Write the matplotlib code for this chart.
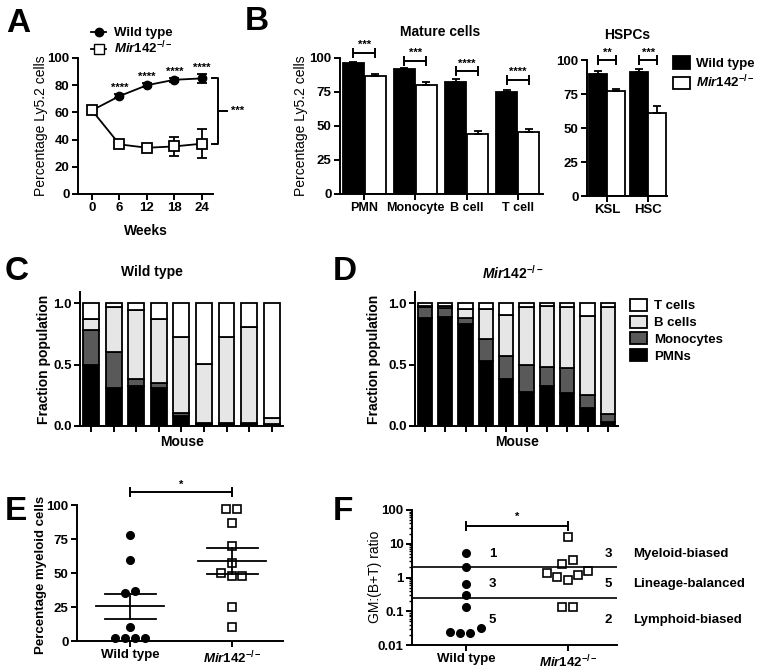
import matplotlib
matplotlib.use('Agg')
import matplotlib.pyplot as plt
from matplotlib.patches import Patch
from matplotlib.lines import Line2D
from matplotlib.ticker import LogLocator, FuncFormatter, NullFormatter
import numpy as np

plt.rcParams['font.family'] = ['Liberation Sans', 'DejaVu Sans']
plt.rcParams['font.weight'] = 'bold'
plt.rcParams['mathtext.fontset'] = 'custom'
plt.rcParams['mathtext.it'] = 'Liberation Sans:italic:bold'
plt.rcParams['mathtext.rm'] = 'Liberation Sans:bold'
plt.rcParams['mathtext.bf'] = 'Liberation Sans:bold'
plt.rcParams['axes.linewidth'] = 1.4

MIR = r'$\mathit{Mir142}^{\mathit{-/-}}$'

# ---- A: Ly5.2 chimerism over time
weeks = [0, 6, 12, 18, 24]
wt_ly52 = [61.5, 72, 80, 84, 85]
wt_ly52_err = [1.5, 1.5, 1.5, 1.5, 3.5]
ko_ly52 = [61.5, 36.5, 34, 35, 37]
ko_ly52_err = [1.5, 1.5, 2.5, 7, 10.5]
week_stars = ['', '****', '****', '****', '****']

# ---- B: mature cells and HSPCs
mature_cells = ['PMN', 'Monocyte', 'B cell', 'T cell']
mature_wt = [96, 92, 82.5, 75]
mature_wt_err = [0.7, 1, 2, 1.5]
mature_ko = [87, 80.5, 44, 45.5]
mature_ko_err = [1, 2, 2.5, 2]
mature_sig = ['***', '***', '****', '****']
mature_sig_y = [104, 98, 90.5, 84]

hspc_cells = ['KSL', 'HSC']
hspc_wt = [90, 91]
hspc_wt_err = [2, 2.7]
hspc_ko = [77, 61]
hspc_ko_err = [2, 5]
hspc_sig = ['**', '***']
hspc_sig_y = [100, 100]

# ---- C / D: lineage fractions per mouse
lineages = ['PMNs', 'Monocytes', 'B cells', 'T cells']
lineage_colors = ['black', '#595959', '#e6e6e6', 'white']
wt_pmn = [0.50, 0.313, 0.325, 0.31, 0.08, 0.02, 0.02, 0.02, 0.015]
wt_mono = [0.28, 0.286, 0.055, 0.04, 0.025, 0.005, 0.005, 0.005, 0.005]
wt_b = [0.09, 0.369, 0.56, 0.52, 0.615, 0.48, 0.70, 0.78, 0.045]
wt_t = [0.13, 0.032, 0.06, 0.13, 0.28, 0.495, 0.275, 0.195, 0.935]

ko_pmn = [0.88, 0.89, 0.83, 0.525, 0.38, 0.28, 0.325, 0.265, 0.15, 0.035]
ko_mono = [0.088, 0.07, 0.05, 0.18, 0.19, 0.22, 0.155, 0.205, 0.10, 0.06]
ko_b = [0.012, 0.02, 0.075, 0.25, 0.33, 0.47, 0.50, 0.495, 0.645, 0.875]
ko_t = [0.02, 0.02, 0.045, 0.045, 0.10, 0.03, 0.02, 0.035, 0.105, 0.03]

# ---- E: percentage myeloid cells
wt_myeloid = [78, 59.5, 35, 37, 10.5, 2, 2, 2, 2.5]
wt_myeloid_dx = [0, 0, -0.05, 0.05, 0, -0.15, -0.05, 0.05, 0.15]
ko_myeloid = [97, 97, 87, 70, 57.5, 50, 47.5, 47.5, 25, 10]
ko_myeloid_dx = [-0.055, 0.05, 0, 0, 0, -0.105, 0, 0.1, 0, 0]

# ---- F: GM:(B+T) ratio
wt_ratio = [5.2, 2.0, 0.65, 0.3, 0.135, 0.025, 0.022, 0.022, 0.033]
wt_ratio_dx = [0, 0, 0, 0, 0, -0.157, -0.06, 0.04, 0.144]
ko_ratio = [15.5, 2.55, 3.3, 1.4, 1.05, 0.85, 1.22, 1.55, 0.138, 0.138]
ko_ratio_dx = [0, -0.06, 0.045, -0.21, -0.11, 0, 0.1, 0.2, -0.06, 0.045]
bias_cut = [2.0, 0.25]
bias_names = ['Myeloid-biased', 'Lineage-balanced', 'Lymphoid-biased']
bias_label_y = [5, 0.63, 0.055]

W, H = 762, 672
fig = plt.figure(figsize=(W / 100, H / 100), dpi=100)


def fx(x):
    return x / W


def fy(y):
    return 1 - y / H


def add_ax(l, t, r, b):
    ax = fig.add_axes([l / W, 1 - b / H, (r - l) / W, (b - t) / H])
    ax.spines[['top', 'right']].set_visible(False)
    ax.tick_params(direction='out', length=4, width=1.4, labelsize=9.5, pad=2)
    return ax


def bracket(ax, x1, x2, y, label, dy, fs=8):
    ax.plot([x1, x2], [y, y], color='k', lw=1.4, marker='|', ms=7, mew=1.4,
            clip_on=False)
    ax.text((x1 + x2) / 2, dy, label, ha='center', va='center', fontsize=fs)


def letter(x, y, s):
    fig.text(fx(x), fy(y), s, fontsize=24, fontweight='bold', ha='left', va='baseline')


def ylab(x, y, s, size=10, weight='bold'):
    fig.text(fx(x), fy(y), s, rotation=90, ha='center', va='center',
             fontsize=size, fontweight=weight)


# ================= A
ax = add_ax(78, 58, 213, 194)
ax.errorbar(weeks, wt_ly52, yerr=wt_ly52_err, fmt='-o', color='k', ms=6, lw=1.3,
            capsize=3.5, elinewidth=1.3, capthick=1.3, clip_on=False)
ax.errorbar(weeks, ko_ly52, yerr=ko_ly52_err, fmt='-s', color='k', mfc='white',
            ms=6.5, mew=1.3, lw=1.3, capsize=3.5, elinewidth=1.3, capthick=1.3)
for w, v, e, s in zip(weeks, wt_ly52, wt_ly52_err, week_stars):
    ax.text(w, v + e + 4.5, s, ha='center', va='center', fontsize=8)
ax.set_xlim(-3.05, 26.4)
ax.set_ylim(0, 100)
ax.set_xticks(weeks)
ax.set_yticks([0, 20, 40, 60, 80, 100])
ax.plot([26.2, 27.5, 27.5, 26.2], [wt_ly52[-1], wt_ly52[-1], ko_ly52[-1], ko_ly52[-1]],
        color='k', lw=1.4, clip_on=False)
mid = (wt_ly52[-1] + ko_ly52[-1]) / 2
ax.plot([27.5, 29.4], [mid, mid], color='k', lw=1.4, clip_on=False)
ax.text(30.3, mid, '***', ha='left', va='center', fontsize=8)
ax.legend(handles=[Line2D([], [], color='k', marker='o', ms=6, lw=1.3),
                   Line2D([], [], color='k', marker='s', mfc='white', ms=6.5, lw=1.3)],
          labels=['Wild type', MIR], loc='upper left', frameon=False,
          bbox_to_anchor=(fx(91), fy(27)), bbox_transform=fig.transFigure,
          fontsize=9.5, borderpad=0, borderaxespad=0, labelspacing=0.05,
          handlelength=1.15, handletextpad=0.6)
ylab(41, 126, 'Percentage Ly5.2 cells', 10, 'normal')
fig.text(fx(146), fy(231), 'Weeks', ha='center', va='center', fontsize=10)
letter(6, 32, 'A')

# ================= B (mature)
ax = add_ax(340, 58, 543, 194)
x = np.arange(len(mature_cells))
ax.bar(x - 0.214, mature_wt, 0.41, color='k', edgecolor='k', lw=1.3,
       yerr=[np.zeros(len(x)), mature_wt_err], capsize=3,
       error_kw=dict(elinewidth=1.3, capthick=1.3))
ax.bar(x + 0.214, mature_ko, 0.41, color='white', edgecolor='k', lw=1.3,
       yerr=[np.zeros(len(x)), mature_ko_err], capsize=3,
       error_kw=dict(elinewidth=1.3, capthick=1.3))
for i, (s, y) in enumerate(zip(mature_sig, mature_sig_y)):
    bracket(ax, i - 0.214, i + 0.214, y, s, y + 5.5)
ax.set_xlim(-0.47, 3.49)
ax.set_ylim(0, 100)
ax.set_xticks(x, mature_cells, fontsize=9)
ax.set_yticks([0, 25, 50, 75, 100])
fig.text(fx(440), fy(32), 'Mature cells', ha='center', va='center', fontsize=10)
ylab(301, 126, 'Percentage Ly5.2 cells', 10, 'normal')
letter(245, 30, 'B')

# ================= B (HSPCs)
ax = add_ax(587, 60, 667, 196)
x = np.arange(len(hspc_cells))
ax.bar(x - 0.225, hspc_wt, 0.44, color='k', edgecolor='k', lw=1.3,
       yerr=[np.zeros(len(x)), hspc_wt_err], capsize=3,
       error_kw=dict(elinewidth=1.3, capthick=1.3))
ax.bar(x + 0.225, hspc_ko, 0.44, color='white', edgecolor='k', lw=1.3,
       yerr=[np.zeros(len(x)), hspc_ko_err], capsize=3,
       error_kw=dict(elinewidth=1.3, capthick=1.3))
for i, (s, y) in enumerate(zip(hspc_sig, hspc_sig_y)):
    bracket(ax, i - 0.225, i + 0.225, y, s, y + 5.5)
ax.set_xlim(-0.49, 1.46)
ax.set_ylim(0, 100)
ax.set_xticks(x, hspc_cells, fontsize=9.5)
ax.set_yticks([0, 25, 50, 75, 100])
fig.text(fx(627), fy(35), 'HSPCs', ha='center', va='center', fontsize=10)
fig.legend(handles=[Patch(fc='k', ec='k', lw=1.3), Patch(fc='white', ec='k', lw=1.3)],
           labels=['Wild type', MIR], loc='upper left', frameon=False,
           bbox_to_anchor=(fx(673), fy(56)), fontsize=9.5, borderpad=0,
           borderaxespad=0, labelspacing=0.3, handlelength=1.3, handleheight=1.1,
           handletextpad=0.45)


# ================= C / D
def stacked(ax, parts, n):
    x = np.arange(n)
    bottom = np.zeros(n)
    for vals, col in zip(parts, lineage_colors):
        ax.bar(x, vals, 0.7, bottom=bottom, color=col, edgecolor='k', lw=1.3)
        bottom = bottom + np.array(vals)
    ax.set_xticks(x, [''] * n)
    ax.set_xlim(-0.49, n - 0.5)
    ax.set_ylim(0, 1.09)
    ax.set_yticks([0, 0.5, 1.0], ['0.0', '0.5', '1.0'])


ax = add_ax(80, 292, 283, 426)
stacked(ax, [wt_pmn, wt_mono, wt_b, wt_t], len(wt_pmn))
fig.text(fx(152), fy(272), 'Wild type', ha='center', va='center', fontsize=10)
ylab(44, 359, 'Fraction population')
fig.text(fx(182), fy(442), 'Mouse', ha='center', va='center', fontsize=10)
letter(5, 280, 'C')

ax = add_ax(415, 292, 618, 426)
stacked(ax, [ko_pmn, ko_mono, ko_b, ko_t], len(ko_pmn))
fig.text(fx(513), fy(273), MIR, ha='center', va='center', fontsize=10)
ylab(374, 359, 'Fraction population')
fig.text(fx(517), fy(442), 'Mouse', ha='center', va='center', fontsize=10)
letter(333, 280, 'D')
fig.legend(handles=[Patch(fc=c, ec='k', lw=1.3) for c in lineage_colors[::-1]],
           labels=lineages[::-1], loc='upper left', frameon=False,
           bbox_to_anchor=(fx(630), fy(299)), fontsize=9.5, borderpad=0,
           borderaxespad=0, labelspacing=0.25, handlelength=1.3, handleheight=1.0,
           handletextpad=0.5)


# ================= E
def mean_sem(ax, xc, vals):
    v = np.array(vals)
    m = v.mean()
    se = v.std(ddof=1) / np.sqrt(len(v))
    ax.plot([xc - 0.33, xc + 0.33], [m, m], color='k', lw=1.3)
    ax.plot([xc - 0.25, xc + 0.25], [m + se, m + se], color='k', lw=1.3)
    ax.plot([xc - 0.25, xc + 0.25], [m - se, m - se], color='k', lw=1.3)
    ax.plot([xc, xc], [m - se, m + se], color='k', lw=1.3)


ax = add_ax(77, 505, 283, 641)
ax.plot(np.array(wt_myeloid_dx), wt_myeloid, 'o', color='k', ms=5.5, clip_on=False)
ax.plot(1 + np.array(ko_myeloid_dx), ko_myeloid, 's', color='k', mfc='white',
        ms=6, mew=1.2, clip_on=False)
mean_sem(ax, 0, wt_myeloid)
mean_sem(ax, 1, ko_myeloid)
bracket(ax, 0, 1, 109.5, '*', 115)
ax.set_xlim(-0.52, 1.5)
ax.set_ylim(0, 100)
ax.set_xticks([0, 1], ['Wild type', MIR], fontsize=9.5)
ax.set_yticks([0, 25, 50, 75, 100])
ylab(41, 575, 'Percentage myeloid cells', 9.5)
letter(5, 520, 'E')

# ================= F
ax = add_ax(412, 510, 617, 645)
ax.set_yscale('log')
ax.plot(np.array(wt_ratio_dx), wt_ratio, 'o', color='k', ms=5.5, clip_on=False)
ax.plot(1 + np.array(ko_ratio_dx), ko_ratio, 's', color='k', mfc='white',
        ms=6, mew=1.2, clip_on=False)
for c in bias_cut:
    ax.axhline(c, color='k', lw=1.2)
bracket(ax, 0, 1, 33.7, '*', 62)
for xc, vals in [(0.26, wt_ratio), (1.395, ko_ratio)]:
    v = np.array(vals)
    counts = [(v > bias_cut[0]).sum(), ((v <= bias_cut[0]) & (v >= bias_cut[1])).sum(),
              (v < bias_cut[1]).sum()]
    for n, yl in zip(counts, bias_label_y):
        ax.text(xc, yl, str(n), ha='center', va='center', fontsize=9.5)
for name, yl in zip(bias_names, bias_label_y):
    ax.text(1.64, yl, name, ha='left', va='center', fontsize=9.5, clip_on=False)
ax.set_xlim(-0.53, 1.48)
ax.set_ylim(0.01, 100)
ax.yaxis.set_major_locator(LogLocator(base=10, numticks=10))
ax.yaxis.set_minor_locator(LogLocator(base=10, subs=np.arange(2, 10), numticks=50))
ax.yaxis.set_major_formatter(FuncFormatter(lambda v, p: '%g' % v))
ax.yaxis.set_minor_formatter(NullFormatter())
ax.tick_params(axis='y', which='minor', length=2.5, width=1.0)
ax.set_xticks([0, 1], ['Wild type', MIR], fontsize=9.5)
ylab(375, 577, 'GM:(B+T) ratio', 10, 'normal')
letter(333, 520, 'F')

fig.savefig('out.png', dpi=100)
